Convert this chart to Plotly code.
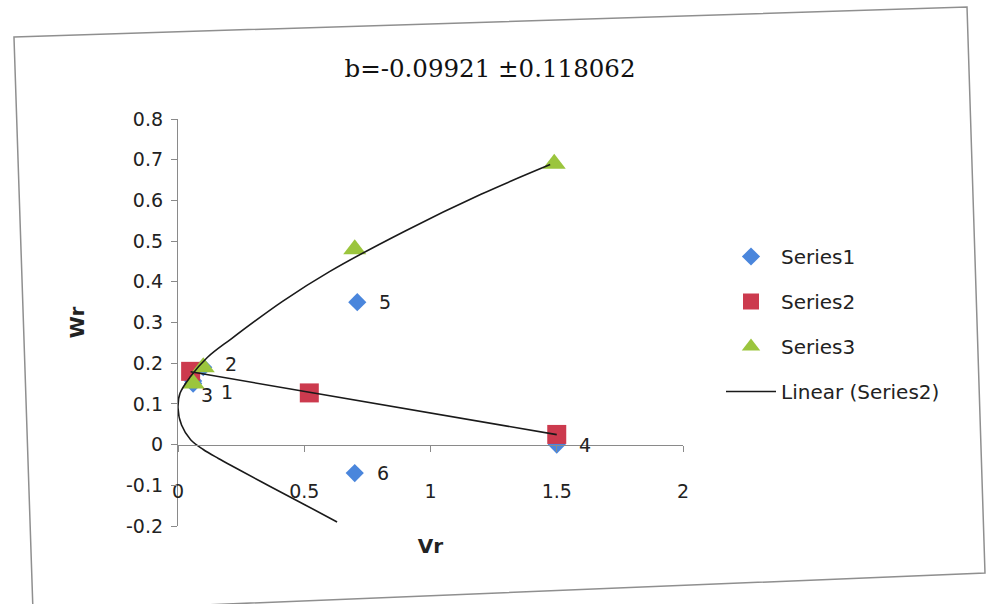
import numpy as np
import plotly.graph_objects as go

# ---------------- data ----------------
series1_labels = ["1", "2", "3", "4", "5", "6"]
series1_vr = [0.06, 0.10, 0.06, 1.50, 0.71, 0.70]
series1_wr = [0.156, 0.19, 0.15, 0.00, 0.35, -0.07]

series2_vr = [0.05, 0.52, 1.50]
series2_wr = [0.18, 0.127, 0.025]

series3_vr = [0.10, 0.06, 0.70, 1.49]
series3_wr = [0.19, 0.15, 0.48, 0.69]

# limiting curve
curve_vr = [0.63, 0.50, 0.365, 0.24, 0.16, 0.10, 0.05, 0.014, 0.0, 0.008, 0.048,
            0.116, 0.211, 0.414, 0.60, 0.90, 1.20, 1.474]
curve_wr = [-0.19, -0.147, -0.103, -0.061, -0.034, -0.012, 0.012, 0.048, 0.09, 0.126, 0.166,
            0.214, 0.26, 0.352, 0.425, 0.525, 0.615, 0.688]

x_ticks = [0, 0.5, 1, 1.5, 2]
x_ticktext = ["0", "0.5", "1", "1.5", "2"]
y_ticks = [0.8, 0.7, 0.6, 0.5, 0.4, 0.3, 0.2, 0.1, 0, -0.1, -0.2]
y_ticktext = ["0.8", "0.7", "0.6", "0.5", "0.4", "0.3", "0.2", "0.1", "0", "-0.1", "-0.2"]

title_text = "b=-0.09921 \u00b10.118062"

# ---------------- style ----------------
W, H = 987, 604
L, R, T, B = 178, 304, 119, 78
SANS = "DejaVu Sans"
AX = "#8a8a8a"
LABEL_SHIFT_DEFAULT = (28, 0)
LABEL_SHIFT = {"1": (34, -11), "2": (28, 3), "3": (14, -11)}

fig = go.Figure()

fig.add_trace(go.Scatter(
    x=series1_vr, y=series1_wr, mode="markers", name="Series1",
    legendgroup="s1",
    marker=dict(symbol="diamond", size=14, color="#4a86dc", line=dict(width=0)),
))
fig.add_trace(go.Scatter(
    x=series2_vr, y=series2_wr, mode="markers", name="Series2",
    legendgroup="s2",
    marker=dict(symbol="square", size=19, color="#cc3a4e", line=dict(width=0)),
))
fig.add_trace(go.Scatter(
    x=series3_vr, y=series3_wr, mode="markers", name="Series3",
    legendgroup="s3",
    marker=dict(symbol="triangle-up", size=20, color="#9bc53d", line=dict(width=0)),
))

# limiting curve (not in legend)
fig.add_trace(go.Scatter(
    x=curve_vr, y=curve_wr, mode="lines", showlegend=False, hoverinfo="skip",
    line=dict(color="#1a1a1a", width=1.6, shape="spline", smoothing=1.0),
))

# linear trendline of Series2
slope, intercept = np.polyfit(series2_vr, series2_wr, 1)
tx = np.array([min(series2_vr), max(series2_vr)])
fig.add_trace(go.Scatter(
    x=tx, y=slope * tx + intercept, mode="lines", name="Linear (Series2)",
    legendgroup="lin",
    line=dict(color="#1a1a1a", width=1.6),
))

# data labels of Series1
for lab, vx, wy in zip(series1_labels, series1_vr, series1_wr):
    sx, sy = LABEL_SHIFT.get(lab, LABEL_SHIFT_DEFAULT)
    fig.add_annotation(x=vx, y=wy, text=lab, showarrow=False, xshift=sx, yshift=sy,
                       font=dict(family=SANS, size=19, color="#222"))

def px(xp):
    return (xp - L) / (W - L - R)

def py(yp):
    return (H - B - yp) / (H - T - B)

# chart-area border (slightly rotated as in the scan)
corners = [(14, 37), (967, 7), (985, 573), (33, 612)]
path = "M " + " L ".join(f"{px(a):.4f},{py(b):.4f}" for a, b in corners) + " Z"
fig.add_shape(type="path", path=path, xref="paper", yref="paper",
              line=dict(color="#8f8f8f", width=1.5), layer="below")

fig.update_layout(
    width=W, height=H,
    margin=dict(l=L, r=R, t=T, b=B, autoexpand=False),
    paper_bgcolor="white", plot_bgcolor="white",
    title=dict(text=title_text, x=490 / W, y=1 - 68 / H, xref="container",
               yref="container", xanchor="center", yanchor="middle",
               font=dict(family="DejaVu Serif", size=24.5, color="#111")),
    showlegend=True,
    legend=dict(x=px(721), y=py(237), xanchor="left", yanchor="top",
                itemwidth=50,
                font=dict(family=SANS, size=20, color="#222"),
                tracegroupgap=16, bgcolor="rgba(0,0,0,0)"),
    xaxis=dict(range=[0, 2], tickvals=x_ticks, ticktext=x_ticktext,
               showgrid=False, zeroline=False, showline=True,
               linecolor=AX, linewidth=1.3, ticks="outside", ticklen=6,
               tickcolor=AX, tickwidth=1.3, anchor="free", position=0.2,
               ticklabelstandoff=23,
               tickfont=dict(family=SANS, size=19, color="#222"),
               title=dict(text="<b>Vr</b>", standoff=38,
                          font=dict(family=SANS, size=20, color="#222"))),
    yaxis=dict(range=[-0.2, 0.8], tickvals=y_ticks, ticktext=y_ticktext,
               showgrid=False, zeroline=False, showline=True,
               linecolor=AX, linewidth=1.3, ticks="outside", ticklen=6,
               tickcolor=AX, tickwidth=1.3, ticklabelstandoff=4,
               tickfont=dict(family=SANS, size=19, color="#222"),
               title=dict(text="<b>Wr</b>", standoff=35,
                          font=dict(family=SANS, size=20, color="#222"))),
)

fig.write_html("out.html")
